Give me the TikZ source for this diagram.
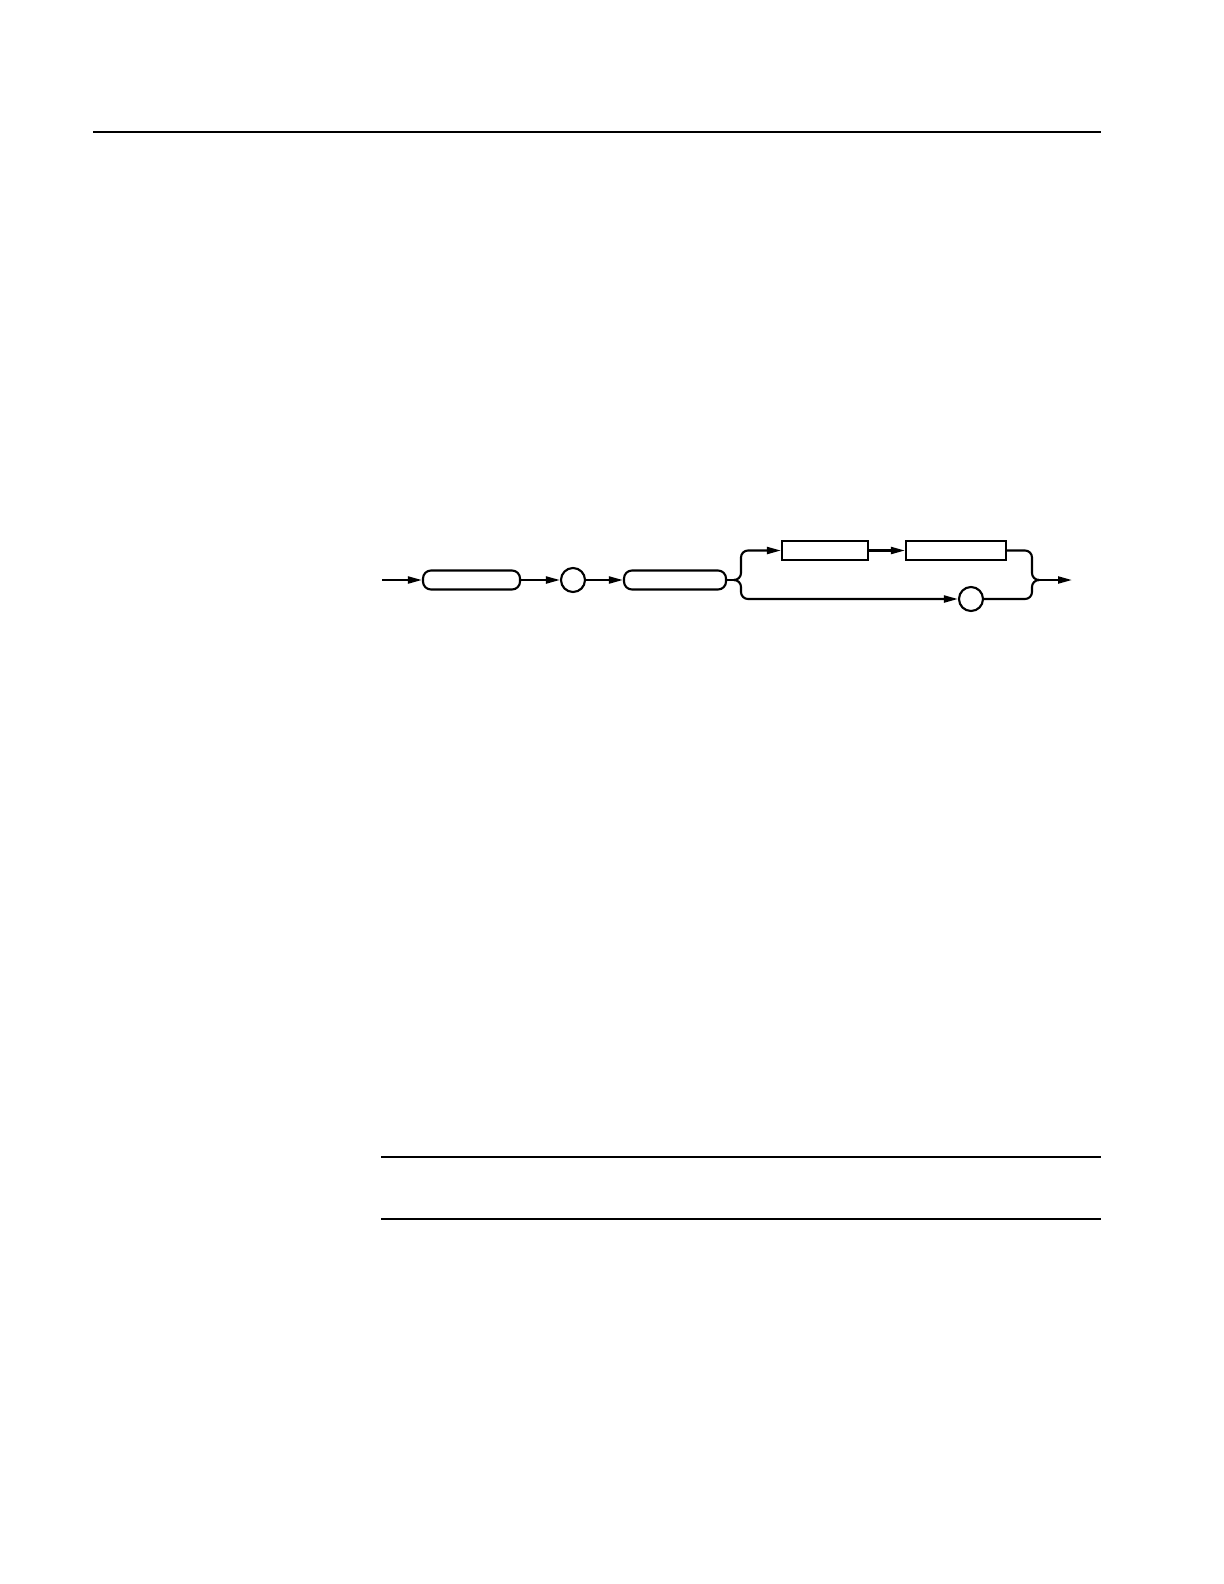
\documentclass[tikz,border=0pt]{standalone}
\usetikzlibrary{arrows.meta}
\tikzset{
syn/.style={line width=0.6pt},
tip/.style={-{Triangle[length=0.14cm,width=0.07cm]}},
keybox/.style={draw,syn,rounded corners=0.08cm,minimum height=0.19cm,inner sep=0pt},
argbox/.style={draw,syn,minimum height=0.19cm,inner sep=0pt},
sepcirc/.style={draw,syn,circle,minimum size=0.24cm,inner sep=0pt},
rule/.style={line width=0.4pt}
}
\begin{document}
\begin{tikzpicture}[x=0.01cm,y=-0.01cm]
\useasboundingbox (0,0) rectangle (1224,1584);
\draw[rule] (93,132)--(1101,132);
\draw[rule] (381,1157)--(1101,1157);
\draw[rule] (381,1219)--(1101,1219);

\coordinate (in) at (382,580);
\node[keybox,minimum width=0.97cm] (hdr) at (471.5,580) {};
\node[sepcirc] (c1) at (573,580) {};
\node[keybox,minimum width=1.02cm] (kw) at (675,580) {};
\node[argbox,minimum width=0.86cm] (a1) at (825,550.5) {};
\node[argbox,minimum width=1.00cm] (a2) at (956,550.5) {};
\node[sepcirc] (c2) at (971,599) {};
\coordinate (fork) at (735,580);
\coordinate (fv) at (741,580);
\coordinate (jv) at (1032,580);
\coordinate (join) at (1038,580);
\coordinate (out) at (1072,580);

\draw[syn,tip] (in)--(hdr);
\draw[syn,tip] (hdr)--(c1);
\draw[syn,tip] (c1)--(kw);
\draw[syn] (kw)--(fork);
\draw[syn,tip,rounded corners=0.07cm] (fork)--(fv)|-(a1);
\draw[syn,tip,rounded corners=0.07cm] (fork)--(fv)|-(c2);
\draw[syn,tip] (a1)--(a2);
\draw[syn,rounded corners=0.07cm] (a2)-|(jv)--(join);
\draw[syn,rounded corners=0.07cm] (c2)-|(jv)--(join);
\draw[syn,tip] (join)--(out);
\end{tikzpicture}
\end{document}
